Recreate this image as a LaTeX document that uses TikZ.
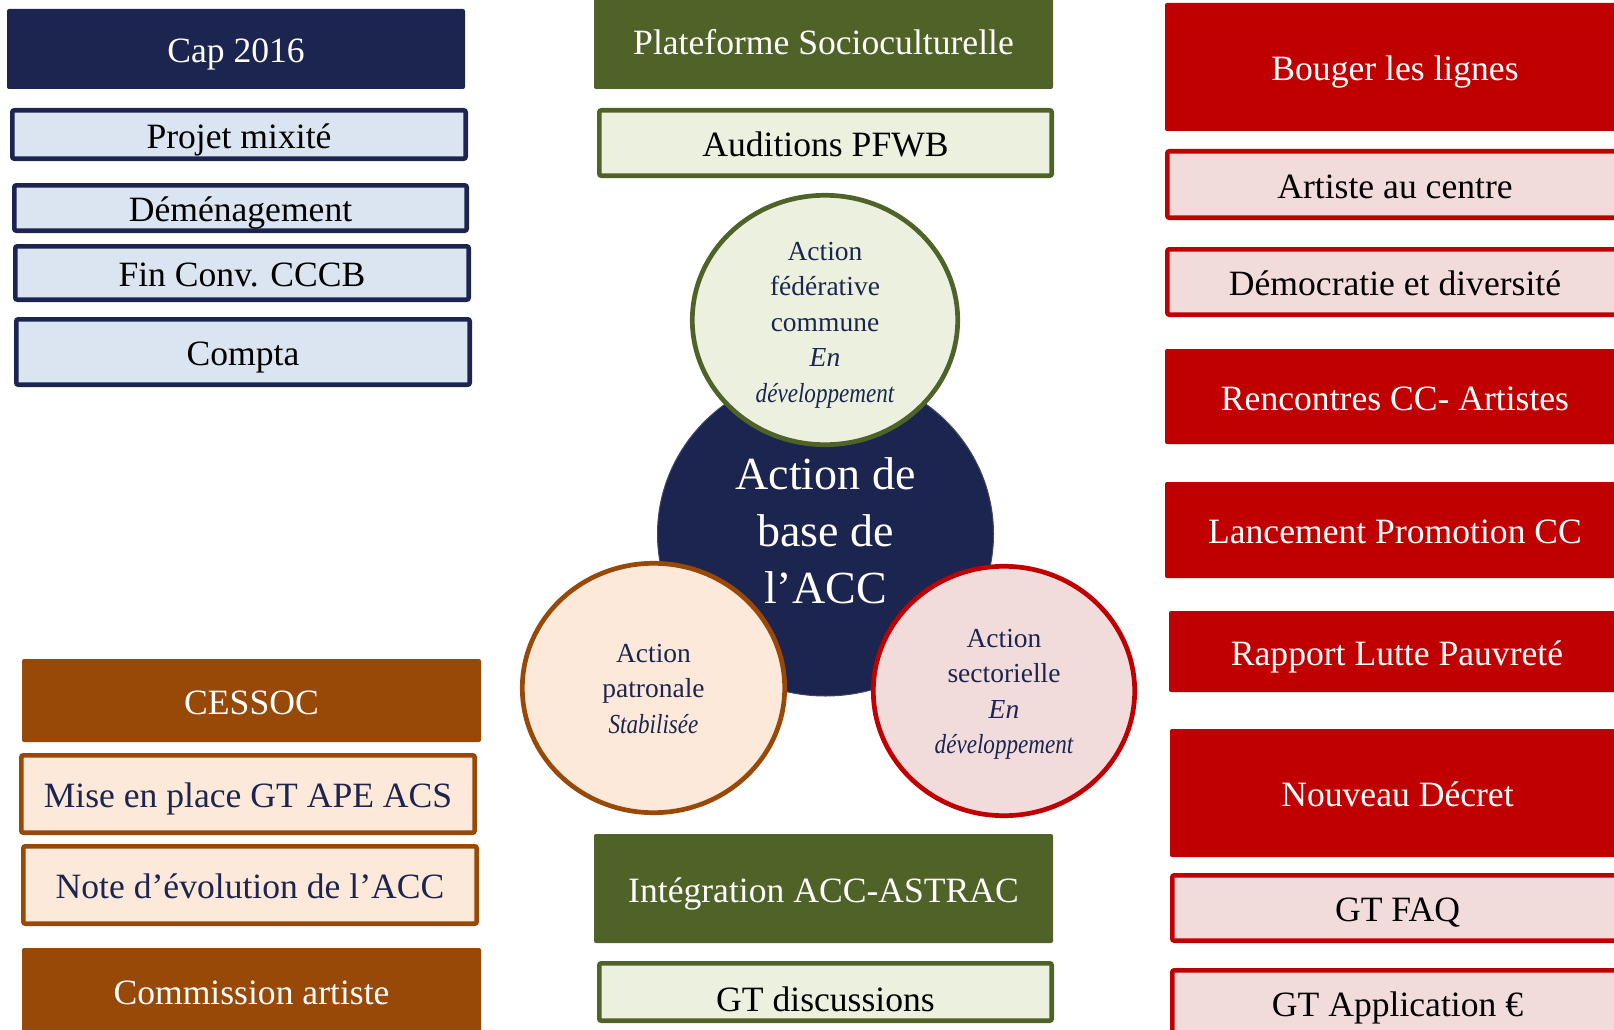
\documentclass[tikz,border=0pt]{standalone}
\usepackage{fontspec}
\setmainfont{Liberation Serif}
\usepackage{graphicx}
\usetikzlibrary{shapes.geometric}
\definecolor{navy}{RGB}{27,37,80}
\definecolor{lblue}{RGB}{219,229,241}
\definecolor{olive}{RGB}{79,98,40}
\definecolor{lgreen}{RGB}{235,241,222}
\definecolor{dred}{RGB}{192,0,0}
\definecolor{lred}{RGB}{242,220,219}
\definecolor{brown}{RGB}{152,72,7}
\definecolor{lbrown}{RGB}{253,233,217}
\tikzset{
  box/.style={rectangle, rounded corners=2pt, inner sep=0pt, text height=27.5pt, text depth=0pt,
    font=\fontsize{35.6}{40}\selectfont, align=center},
  darkbox/.style={box, fill=#1, text=white},
  lightbox/.style 2 args={box, fill=#1, draw=#2, line width=4.7pt, text=black},
  bubble/.style 2 args={ellipse, inner sep=0pt, fill=#1, draw=#2, line width=4.7pt},
  bubbletext/.style={inner sep=0pt, text=navy, align=center, font=\fontsize{27.5}{35.5}\selectfont},
}
\newcommand{\condit}[1]{\scalebox{0.84}[1]{\itshape #1}}
\begin{document}
\begin{tikzpicture}[x=1pt,y=-1pt]
\useasboundingbox (0,0) rectangle (1614,1030);
\begin{scope}
\clip (0,0) rectangle (1614,1030);
% left column
\node[darkbox=navy, minimum width=458, minimum height=80] (cap) at (236,49) {Cap 2016};
\node[lightbox={lblue}{navy}, minimum width=453.3, minimum height=48.3] (mixite) at (239,134.5) {Projet mixité};
\node[lightbox={lblue}{navy}, minimum width=452.3, minimum height=45.3] (demenag) at (240.5,208) {Déménagement};
\node[lightbox={lblue}{navy}, minimum width=453.3, minimum height=53.3] (finconv) at (242,273) {Fin Conv. CCCB};
\node[lightbox={lblue}{navy}, minimum width=453.3, minimum height=65.3] (compta) at (243,352) {Compta};
\node[darkbox=brown, minimum width=459, minimum height=83] (cessoc) at (251.5,700.5) {CESSOC};
\node[lightbox={lbrown}{brown}, minimum width=453.3, minimum height=77.3, text=navy] (mise) at (248,794) {Mise en place GT APE ACS};
\node[lightbox={lbrown}{brown}, minimum width=453.3, minimum height=77.3, text=navy] (note) at (250,885) {Note d’évolution de l’ACC};
\node[darkbox=brown, minimum width=459, minimum height=86] (commission) at (251.5,991) {Commission artiste};
% middle column
\node[darkbox=olive, minimum width=459, minimum height=97] (plateforme) at (823.5,40.5) {Plateforme Socioculturelle};
\node[lightbox={lgreen}{olive}, minimum width=452.3, minimum height=65.3] (auditions) at (825.5,143) {Auditions PFWB};
\node[darkbox=olive, minimum width=459, minimum height=109] (integration) at (823.5,888.5) {Intégration ACC-ASTRAC};
\node[lightbox={lgreen}{olive}, minimum width=452.3, minimum height=57.3, text height=39pt] (gtdisc) at (825.5,992) {GT discussions};
% right column
\node[darkbox=dred, minimum width=460, minimum height=128] (bouger) at (1395,67) {Bouger les lignes};
\node[lightbox={lred}{dred}, minimum width=455.3, minimum height=66.3] (artiste) at (1395,184.5) {Artiste au centre};
\node[lightbox={lred}{dred}, minimum width=455.3, minimum height=65.3] (democratie) at (1395,282) {Démocratie et diversité};
\node[darkbox=dred, minimum width=460, minimum height=95] (rencontres) at (1395,396.5) {Rencontres CC- Artistes};
\node[darkbox=dred, minimum width=460, minimum height=96] (lancement) at (1395,530) {Lancement Promotion CC};
\node[darkbox=dred, minimum width=456, minimum height=81] (rapport) at (1397,651.5) {Rapport Lutte Pauvreté};
\node[darkbox=dred, minimum width=455, minimum height=128] (nouveau) at (1397.5,793) {Nouveau Décret};
\node[lightbox={lred}{dred}, minimum width=450.3, minimum height=65.3] (gtfaq) at (1397.5,908) {GT FAQ};
\node[lightbox={lred}{dred}, minimum width=450.3, minimum height=68.3, text height=23.5pt] (gtapp) at (1397.5,1004.5) {GT Application €};
% circles
\node[ellipse, inner sep=0pt, fill=navy, draw=navy!85!white, line width=1pt,
  minimum width=336, minimum height=324] (base) at (825.5,534) {};
\node[inner sep=0pt, text=white, align=center, font=\fontsize{46}{57}\selectfont] (basetext) at (825.5,531)
  {Action de\\base de\\l’ACC};
\node[bubble={lgreen}{olive}, minimum width=265.4, minimum height=249.4] (federative) at (825,320) {};
\node[bubbletext] (federativetext) at (825,325)
  {Action\\fédérative\\commune\\\textit{En}\\\condit{développement}};
\node[bubble={lbrown}{brown}, minimum width=262.4, minimum height=249.4] (patronale) at (653.5,688) {};
\node[bubbletext] (patronaletext) at (653.5,689)
  {Action\\patronale\\\condit{Stabilisée}};
\node[bubble={lred}{dred}, minimum width=261.4, minimum height=249.4] (sectorielle) at (1004,691) {};
\node[bubbletext] (sectorielletext) at (1004,694.5)
  {Action\\sectorielle\\\textit{En}\\\condit{développement}};
\end{scope}
\end{tikzpicture}
\end{document}
